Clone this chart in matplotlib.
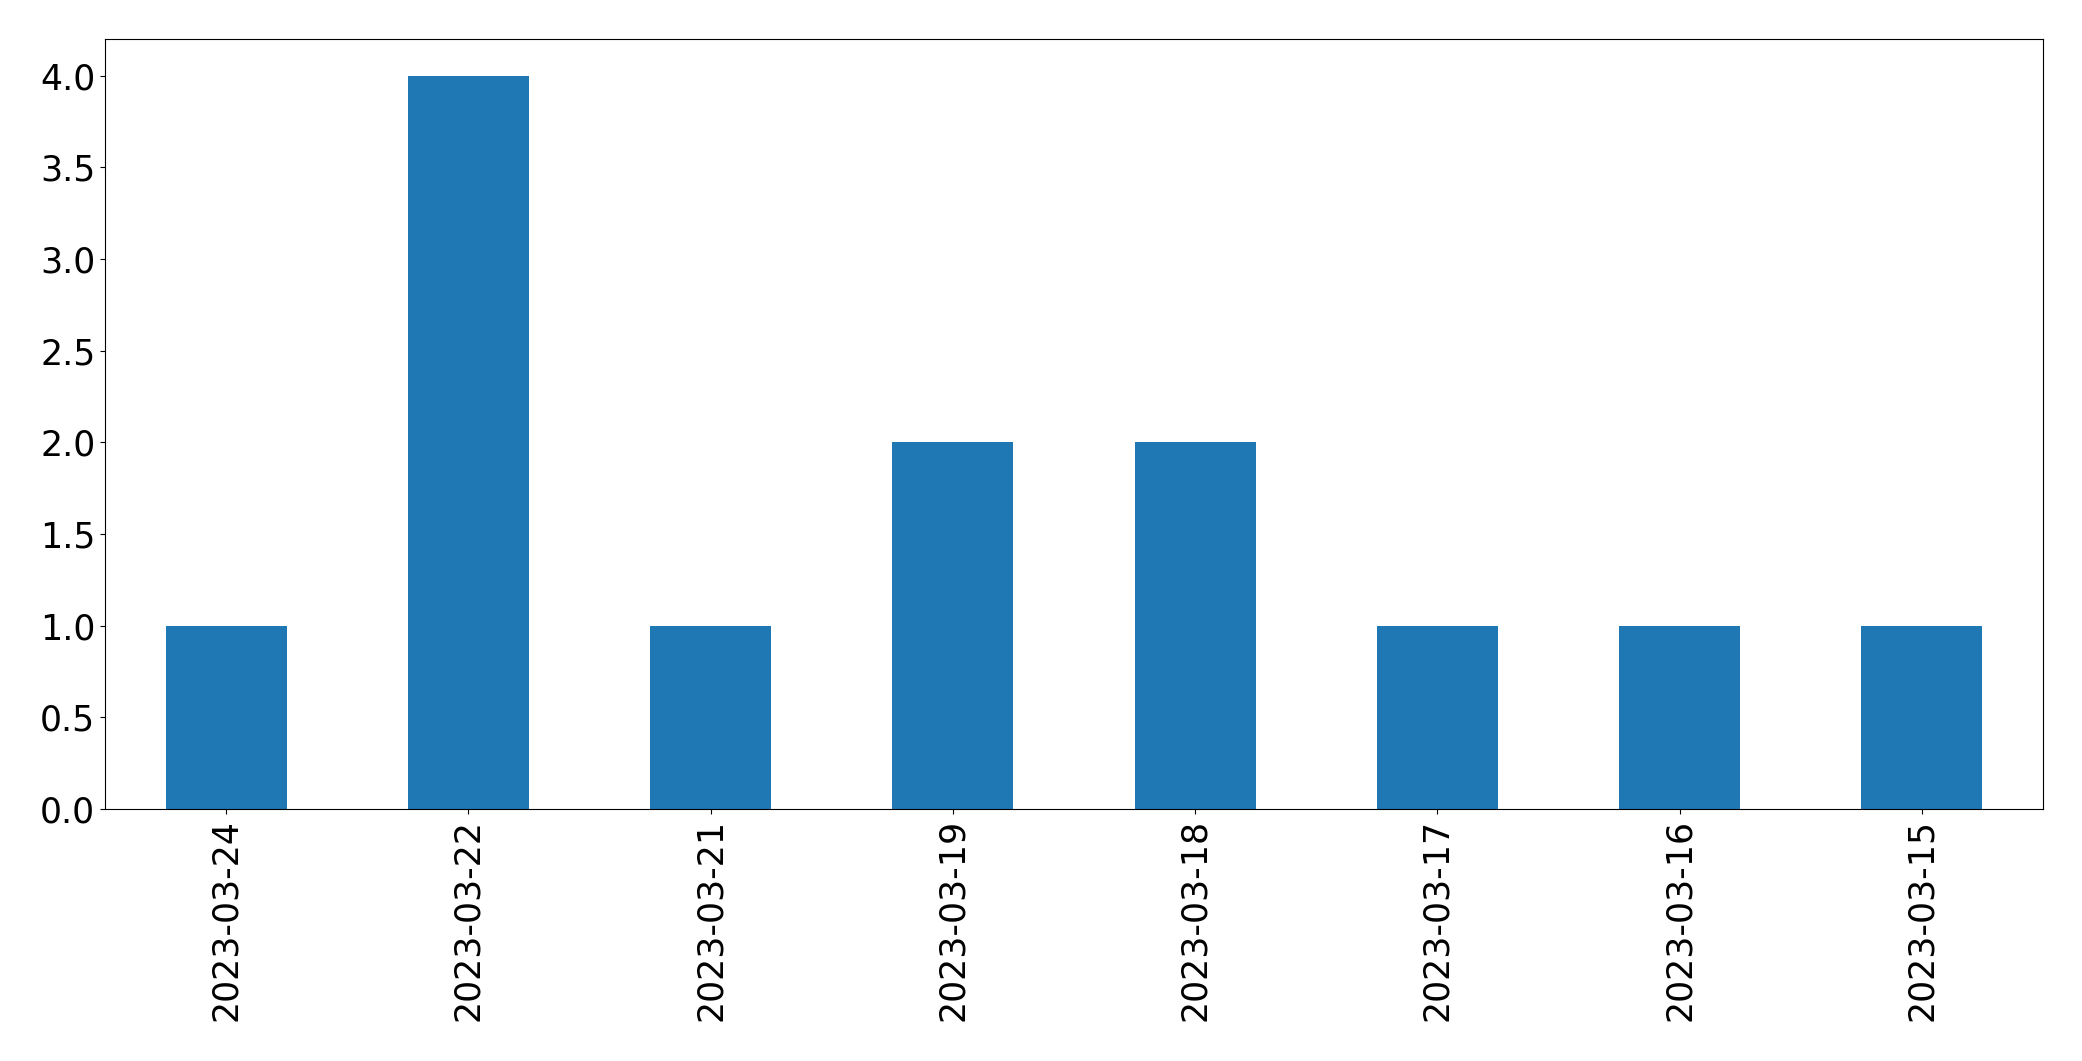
import matplotlib
matplotlib.use("Agg")
import matplotlib.pyplot as plt
import pandas as pd

dates = ["2023-03-24", "2023-03-22", "2023-03-21", "2023-03-19",
         "2023-03-18", "2023-03-17", "2023-03-16", "2023-03-15"]
counts = [1, 4, 1, 2, 2, 1, 1, 1]

s = pd.Series(counts, index=dates)

W, H = 2082, 1061
left, right, top, bottom = 105, 2043, 39, 809
fig = plt.figure(figsize=(W / 100, H / 100), dpi=100)
ax = fig.add_axes([left / W, 1 - bottom / H, (right - left) / W, (bottom - top) / H])
s.plot(kind="bar", ax=ax, color="#1f77b4", fontsize=25)
ax.set_yticks([0.0, 0.5, 1.0, 1.5, 2.0, 2.5, 3.0, 3.5, 4.0])
fig.savefig("out.png", dpi=100)
